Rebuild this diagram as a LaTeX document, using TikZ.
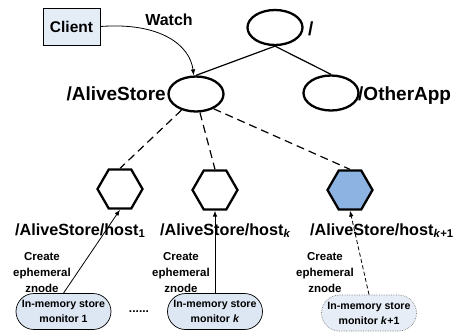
\documentclass[tikz,border=0pt]{standalone}
\usepackage{fontspec}
\setmainfont{Liberation Sans}
\usetikzlibrary{shapes.geometric,shapes.misc,arrows.meta}
\definecolor{clientfill}{HTML}{E4ECF6}
\definecolor{monfill}{HTML}{DDE7F3}
\definecolor{monfilllight}{HTML}{E6EDF6}
\definecolor{hexfill}{HTML}{8DB3E2}
\tikzset{
  znode/.style={ellipse,draw,line width=2.3pt,minimum width=55pt,minimum height=35pt,inner sep=0pt},
  hexnode/.style={regular polygon,regular polygon sides=6,draw,line width=2.3pt,minimum size=45pt,inner sep=0pt},
  biglabel/.style={font=\bfseries\fontsize{19}{22}\selectfont,inner sep=0pt},
  hostlabel/.style={font=\bfseries\fontsize{16.2}{19}\selectfont,inner sep=0pt},
  createlabel/.style={font=\bfseries\fontsize{11.5}{16}\selectfont,align=center,inner sep=0pt},
  monitor/.style={rounded rectangle,draw,line width=0.7pt,fill=monfill,minimum width=95pt,minimum height=36pt,inner sep=0pt,align=center,font=\bfseries\fontsize{10.6}{15}\selectfont},
  treeline/.style={line width=1.2pt},
  dashline/.style={line width=1.2pt,dash pattern=on 8pt off 5pt},
  arrowline/.style={line width=0.8pt,-{Latex[length=6pt,width=4.5pt]}}
}
\begin{document}
\begin{tikzpicture}[x=1pt,y=-1pt]
\useasboundingbox (0,0) rectangle (456,335);
% client
\node[draw,line width=0.8pt,fill=clientfill,minimum width=57pt,minimum height=37pt,inner sep=0pt,font=\bfseries\fontsize{15.5}{18}\selectfont] (client) at (71.5,26.5) {Client};
\node[font=\bfseries\fontsize{16}{19}\selectfont,inner sep=0pt,anchor=base] (watch) at (169,25) {Watch};
% tree nodes
\node[znode] (root) at (275,27.5) {};
\node[znode] (alive) at (196,94) {};
\node[znode] (other) at (331,93) {};
\node[biglabel,anchor=base west] (rootlbl) at (308,35) {/};
\node[biglabel,anchor=base east] (alivelbl) at (166,100) {/AliveStore};
\node[biglabel,anchor=base west] (otherlbl) at (358,100) {/OtherApp};
% hexagons
\node[hexnode] (h1) at (120,189) {};
\node[hexnode] (hk) at (215,190) {};
\node[hexnode,fill=hexfill] (hk1) at (350,190) {};
\node[hostlabel,anchor=base west] (h1lbl) at (15,235) {/AliveStore/host\textsubscript{1}};
\node[hostlabel,anchor=base west] (hklbl) at (160,235) {/AliveStore/host\textsubscript{\textit{k}}};
\node[hostlabel,anchor=base west] (hk1lbl) at (310,235) {/AliveStore/host\textsubscript{\textit{k}+1}};
% create labels
\node[createlabel] (c1) at (42,273) {Create\\ephemeral\\znode};
\node[createlabel] (ck) at (181,273) {Create\\ephemeral\\znode};
\node[createlabel] (ck1) at (325,273) {Create\\ephemeral\\znode};
% monitors
\node[monitor] (m1) at (63.5,311.5) {In-memory store\\monitor 1};
\node[monitor] (mk) at (215,311.5) {In-memory store\\monitor \textit{k}};
\node[monitor,draw=gray,densely dotted,fill=monfilllight] (mk1) at (369,313) {In-memory store\\monitor \textit{k}+1};
\node[font=\bfseries\fontsize{12}{14}\selectfont,inner sep=0pt] (dots) at (139,312) {......};
% connectors
\draw[treeline] (root.south) -- (alive.north);
\draw[treeline] (root.south) -- (other.north);
\draw[dashline] (alive.228) -- (h1.north);
\draw[dashline] (alive.282) -- (hk.north);
\draw[dashline] (alive.320) -- (hk1.north);
\draw[arrowline] (client.east) .. controls (160,22) and (190,45) .. (alive.97);
\draw[arrowline] (m1.north) -- (h1.south);
\draw[arrowline] (mk.north) -- (hk.south);
\draw[arrowline,dash pattern=on 4pt off 2.5pt] (mk1.north) -- (hk1.south);
\end{tikzpicture}
\end{document}
